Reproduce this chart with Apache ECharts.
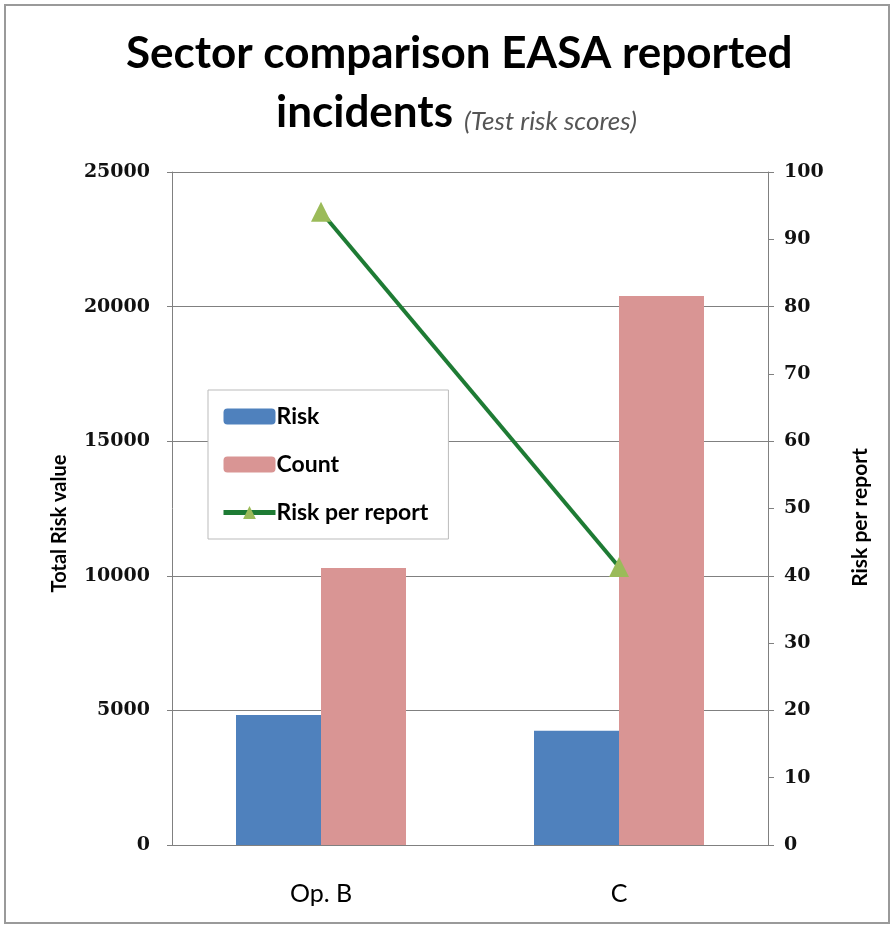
<!DOCTYPE html>
<html>
<head>
<meta charset="utf-8">
<script src="https://cdn.jsdelivr.net/npm/echarts@6/dist/echarts.min.js"></script>
<style>
  html, body { margin: 0; padding: 0; background: #fff; }
  #main { width: 895px; height: 929px; }
</style>
</head>
<body>
<div id="main"></div>
<script>
// data
const categories = ['Op. B', 'C']
const riskValues = [4830, 4240]
const countValues = [10290, 20390]
const riskPerReport = [94.1, 41.3]

const chart = echarts.init(document.getElementById('main'))

const titleFont = { fontFamily: 'Lato', fontWeight: 'bold', fontSize: 44, color: '#000' }

const option = {
  backgroundColor: '#fff',
  graphic: [{
    type: 'rect',
    shape: { x: 5, y: 5, width: 884, height: 918 },
    style: { fill: 'none', stroke: '#9a9a9a', lineWidth: 2 }
  }],
  title: [{
    text: 'Sector comparison EASA reported',
    left: 121,
    top: 27,
    textStyle: titleFont
  }, {
    text: 'incidents',
    left: 271,
    top: 86,
    textStyle: titleFont
  }, {
    text: '(Test risk scores)',
    left: 459,
    top: 104,
    textStyle: { fontFamily: 'Lato', fontStyle: 'italic', fontWeight: 'normal', fontSize: 26, color: '#555' }
  }],
  legend: {
    orient: 'vertical',
    left: 208,
    top: 390,
    padding: [15, 20, 15, 13],
    itemGap: 25,
    itemWidth: 52,
    itemHeight: 16,
    backgroundColor: '#fff',
    borderColor: '#bbb',
    borderWidth: 1,
    lineStyle: { width: 5 },
    textStyle: { fontFamily: 'Lato', fontWeight: 'bold', fontSize: 23, color: '#000', padding: [0, 0, 0, -4] },
    data: ['Risk', 'Count', 'Risk per report']
  },
  grid: { left: 172, right: 127, top: 172, bottom: 84 },
  xAxis: {
    type: 'category',
    data: categories,
    axisLine: { lineStyle: { color: '#808080', width: 1 } },
    axisTick: { show: false },
    axisLabel: { fontFamily: 'Lato', fontSize: 25, color: '#000', margin: 36 }
  },
  yAxis: [{
    type: 'value',
    min: 0, max: 25000, interval: 5000,
    name: 'Total Risk value',
    nameLocation: 'middle',
    nameGap: 102,
    nameTextStyle: { fontFamily: 'Lato', fontWeight: 'bold', fontSize: 20, color: '#000', padding: [0, 30, 0, 0] },
    axisLine: { show: true, lineStyle: { color: '#808080' } },
    axisTick: { show: true, length: 5, lineStyle: { color: '#808080' } },
    axisLabel: { fontFamily: 'DejaVu Serif', fontWeight: 'bold', fontSize: 19, color: '#111', margin: 22, formatter: v => String(v) },
    splitLine: { lineStyle: { color: '#808080', width: 1 } }
  }, {
    type: 'value',
    min: 0, max: 100, interval: 10,
    name: 'Risk per report',
    nameLocation: 'middle',
    nameGap: 82,
    nameTextStyle: { fontFamily: 'Lato', fontWeight: 'bold', fontSize: 21, color: '#000', padding: [0, 18, 0, 0] },
    axisLine: { show: true, lineStyle: { color: '#808080' } },
    axisTick: { show: true, length: 6, lineStyle: { color: '#808080' } },
    axisLabel: { fontFamily: 'DejaVu Serif', fontWeight: 'bold', fontSize: 19, color: '#111', margin: 16 },
    splitLine: { show: false }
  }],
  series: [{
    name: 'Risk',
    type: 'bar',
    data: riskValues,
    barWidth: 85,
    barGap: '0%',
    itemStyle: { color: '#4F81BD' }
  }, {
    name: 'Count',
    type: 'bar',
    data: countValues,
    barWidth: 85,
    itemStyle: { color: '#D99594' }
  }, {
    name: 'Risk per report',
    type: 'line',
    yAxisIndex: 1,
    data: riskPerReport,
    symbol: 'triangle',
    symbolSize: 20,
    itemStyle: { color: '#9BBB59', borderWidth: 0 },
    lineStyle: { color: '#1E7B34', width: 4 },
    z: 5
  }]
}

chart.setOption(option)
</script>
</body>
</html>
